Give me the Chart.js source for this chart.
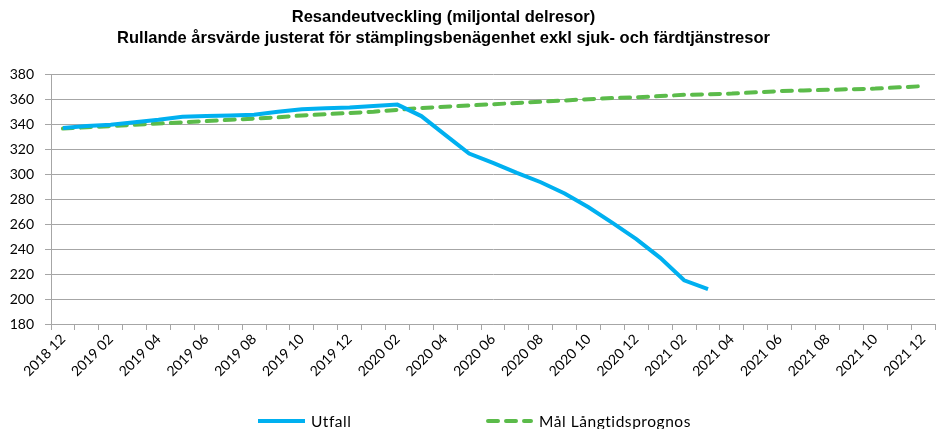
<!DOCTYPE html>
<html lang="sv">
<head>
<meta charset="utf-8">
<title>Resandeutveckling</title>
<script src="https://cdn.jsdelivr.net/npm/chart.js@4.4.1/dist/chart.umd.min.js"></script>
<style>
  html, body { margin: 0; padding: 0; background: #fff; }
  #wrap { position: relative; width: 937px; height: 429px; }
  #legend { position: absolute; left: 0; top: 412px; width: 937px; height: 16px;
            font-family: Lato, "Noto Sans", sans-serif; font-size: 15.5px; color: #000; }
  .item { position: absolute; top: 0; display: flex; align-items: center; white-space: nowrap; letter-spacing: 0.55px; }
  .item svg { margin-right: 6px; }
</style>
</head>
<body>
<div id="wrap">
  <canvas id="chart" width="937" height="429"></canvas>
  <div id="legend"></div>
</div>
<script>
// Månader (kategorier)
const months = [
    "2018 12",
    "2019 01", "2019 02", "2019 03", "2019 04", "2019 05", "2019 06",
    "2019 07", "2019 08", "2019 09", "2019 10", "2019 11", "2019 12",
    "2020 01", "2020 02", "2020 03", "2020 04", "2020 05", "2020 06",
    "2020 07", "2020 08", "2020 09", "2020 10", "2020 11", "2020 12",
    "2021 01", "2021 02", "2021 03", "2021 04", "2021 05", "2021 06",
    "2021 07", "2021 08", "2021 09", "2021 10", "2021 11", "2021 12"
];

// Utfall (miljontal delresor, rullande årsvärde)
const utfall = [
    337, 338.5, 339.5, 341.5, 343.5, 346, 346.5, 347, 347.5, 350, 352, 352.7,
    353.3, 354.5, 355.7, 346.5, 331.5, 316.5, 309, 301, 293.5, 284.5, 273.5, 261,
    248, 233, 215, 208
];

// Mål Långtidsprognos
const malPrognos = [
    336.5, 337.5, 338.5, 339.5, 340.5, 341.5, 342.5, 343.5, 344.5, 345.5, 347, 348,
    349, 350, 351.5, 353, 354, 355, 356, 357, 358, 359, 360, 361,
    361.5, 362.5, 363.5, 364, 364.5, 365.5, 366.5, 367, 367.5, 368, 368.5, 369.5,
    370.5
];

const yTicks = { min: 180, max: 380, step: 20 };

const gridColor = "#a6a6a6";
const tickFont = { family: "Lato, 'Noto Sans', sans-serif", size: 14 };

// Enkel HTML-legend, byggd från datasetten
const legendPositions = [258, 486];
const htmlLegend = {
    id: "htmlLegend",
    afterUpdate(chart) {
        const box = document.getElementById("legend");
        box.innerHTML = "";
        chart.data.datasets.forEach((ds, i) => {
            const item = document.createElement("div");
            item.className = "item";
            item.style.left = legendPositions[i] + "px";
            const dash = ds.borderDash && ds.borderDash.length ? ds.borderDash.join(" ") : "none";
            const cap = ds.borderCapStyle || "butt";
            item.innerHTML =
                '<svg width="47" height="8"><line x1="' + (cap === "round" ? 2 : 0) + '" y1="4" x2="' + (cap === "round" ? 45 : 47) +
                '" y2="4" stroke="' + ds.borderColor + '" stroke-width="' + ds.borderWidth +
                '" stroke-dasharray="' + dash + '" stroke-linecap="' + cap + '"/></svg>';
            const label = document.createElement("span");
            label.textContent = ds.label;
            item.appendChild(label);
            box.appendChild(item);
        });
    }
};

// Rubriken står lite till vänster om mitten i originalet
const titleShift = {
    id: "titleShift",
    afterLayout(chart) {
        chart.titleBlock.left -= 24;
        chart.titleBlock.right -= 24;
    }
};

const ctx = document.getElementById("chart").getContext("2d");

const chart = new Chart(ctx, {
    type: "line",
    data: {
        labels: months,
        datasets: [{
            label: "Utfall",
            data: utfall,
            borderColor: "#00b0f0",
            backgroundColor: "#00b0f0",
            borderWidth: 4,
            pointRadius: 0,
            tension: 0,
            fill: false
        }, {
            label: "Mål Långtidsprognos",
            data: malPrognos,
            borderColor: "#5bbb4a",
            backgroundColor: "#5bbb4a",
            borderWidth: 4,
            borderDash: [10, 8],
            borderCapStyle: "round",
            pointRadius: 0,
            tension: 0,
            fill: false
        }]
    },
    options: {
        responsive: false,
        animation: false,
        layout: { padding: { left: 0, right: 2, top: 0, bottom: 0 } },
        plugins: {
            legend: { display: false },
            tooltip: { enabled: false },
            title: {
                display: true,
                text: [
                    "Resandeutveckling (miljontal delresor)",
                    "Rullande årsvärde justerat för stämplingsbenägenhet exkl sjuk- och färdtjänstresor"
                ],
                color: "#000",
                font: { family: "'Liberation Sans', Arial, sans-serif", size: 16.5, weight: "bold", lineHeight: 1.28 },
                padding: { top: 7, bottom: 25 }
            }
        },
        scales: {
            x: {
                offset: true,
                grid: {
                    offset: true,
                    drawOnChartArea: false,
                    color: gridColor,
                    tickLength: 6
                },
                border: { color: gridColor },
                ticks: {
                    autoSkip: false,
                    maxRotation: 45,
                    minRotation: 45,
                    color: "#000",
                    font: tickFont,
                    padding: 1,
                    callback: function (value, index) {
                        return index % 2 === 0 ? this.getLabelForValue(value) : "";
                    }
                },
                afterFit: (scale) => { scale.height = 105; }
            },
            y: {
                min: yTicks.min,
                max: yTicks.max,
                grid: { color: gridColor, tickLength: 6 },
                border: { color: gridColor },
                ticks: {
                    stepSize: yTicks.step,
                    color: "#000",
                    font: tickFont,
                    padding: 11
                },
                afterFit: (scale) => { scale.width = 51; }
            }
        }
    },
    plugins: [htmlLegend, titleShift]
});
</script>
</body>
</html>
